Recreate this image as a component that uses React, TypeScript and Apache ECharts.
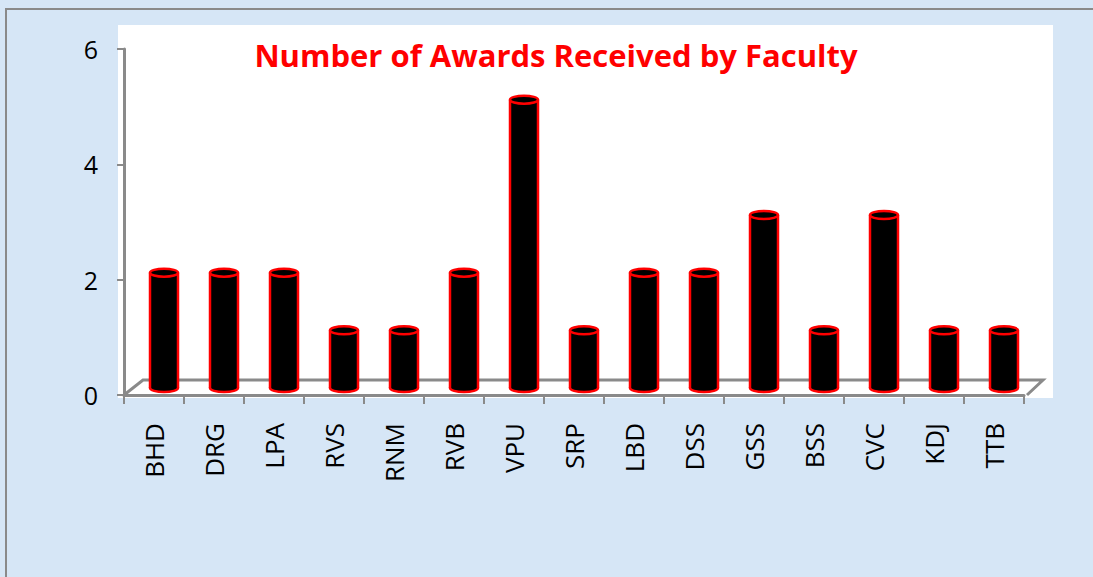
import React, { useEffect, useRef } from "react";
import * as echarts from "echarts";

const categories = ["BHD", "DRG", "LPA", "RVS", "RNM", "RVB", "VPU", "SRP", "LBD", "DSS", "GSS", "BSS", "CVC", "KDJ", "TTB"];
const awards = [2, 2, 2, 1, 1, 2, 5, 1, 2, 2, 3, 1, 3, 1, 1];
const yTicks = [0, 2, 4, 6];
const chartTitle = "Number of Awards Received by Faculty";

export default function App() {
  const ref = useRef<HTMLDivElement>(null);
  useEffect(() => {
    if (!ref.current) return;
    const chart = echarts.init(ref.current, null, { renderer: "svg" });
    const axisColor = "#8a8a8a";
    const option: any = {
      animation: false,
      backgroundColor: "#d6e6f6",
      grid: { left: 124, right: 69, top: 49, bottom: 182, containLabel: false },
      xAxis: {
        type: "category",
        data: categories,
        axisLine: { show: true, lineStyle: { color: axisColor, width: 3 } },
        axisTick: { show: true, length: 9, lineStyle: { color: axisColor, width: 2 } },
        axisLabel: {
          rotate: 90,
          margin: 28,
          color: "#000",
          fontFamily: "Open Sans",
          fontSize: 26,
        },
        splitLine: { show: false },
      },
      yAxis: {
        type: "value",
        min: yTicks[0],
        max: yTicks[yTicks.length - 1],
        interval: 2,
        axisLine: { show: true, lineStyle: { color: axisColor, width: 3 } },
        axisTick: { show: true, length: 7, lineStyle: { color: axisColor, width: 2 } },
        axisLabel: { margin: 26, color: "#000", fontFamily: "Open Sans", fontSize: 25 },
        splitLine: { show: false },
      },
      graphic: [
        { type: "rect", z: -100, silent: true, shape: { x: 6, y: 9, width: 1100, height: 600 }, style: { fill: "none", stroke: "#8a8a8a", lineWidth: 2 } },
        { type: "rect", z: -90, silent: true, shape: { x: 118, y: 25, width: 935, height: 373 }, style: { fill: "#ffffff" } },
        { type: "polyline", z: -80, silent: true, shape: { points: [[124, 395], [143, 380], [1043, 380], [1027, 395]] }, style: { fill: "none", stroke: axisColor, lineWidth: 3 } },
        {
          type: "text", z: 10, x: 556, y: 55,
          style: { text: chartTitle, fill: "#ff0000", font: "bold 31px 'Open Sans'", textAlign: "center", textVerticalAlign: "middle" },
        },
      ],
      series: [
        {
          type: "custom",
          z: 5,
          data: awards.map((v, i) => [i, v]),
          renderItem: (params: any, api: any) => {
            const idx = api.value(0);
            const val = api.value(1);
            const top = api.coord([idx, val]);
            const base = api.coord([idx, 0]);
            const cx = base[0] + 10;
            const by = base[1] - 7;
            const ty = top[1] - 7;
            const hw = 14;
            const ry = 4;
            const red = "#ff0000";
            return {
              type: "group",
              children: [
                { type: "ellipse", shape: { cx, cy: by, rx: hw, ry }, style: { fill: "#000", stroke: red, lineWidth: 2.5 } },
                { type: "rect", shape: { x: cx - hw, y: ty, width: hw * 2, height: by - ty }, style: { fill: "#000" } },
                { type: "line", shape: { x1: cx - hw, y1: ty, x2: cx - hw, y2: by }, style: { stroke: red, lineWidth: 2.5 } },
                { type: "line", shape: { x1: cx + hw, y1: ty, x2: cx + hw, y2: by }, style: { stroke: red, lineWidth: 2.5 } },
                { type: "ellipse", shape: { cx, cy: ty, rx: hw, ry }, style: { fill: "#000", stroke: red, lineWidth: 2.5 } },
              ],
            };
          },
        },
      ],
    };
    chart.setOption(option);
    return () => chart.dispose();
  }, []);
  return <div ref={ref} style={{ position: "absolute", left: 0, top: 0, width: 1093, height: 577 }} />;
}
